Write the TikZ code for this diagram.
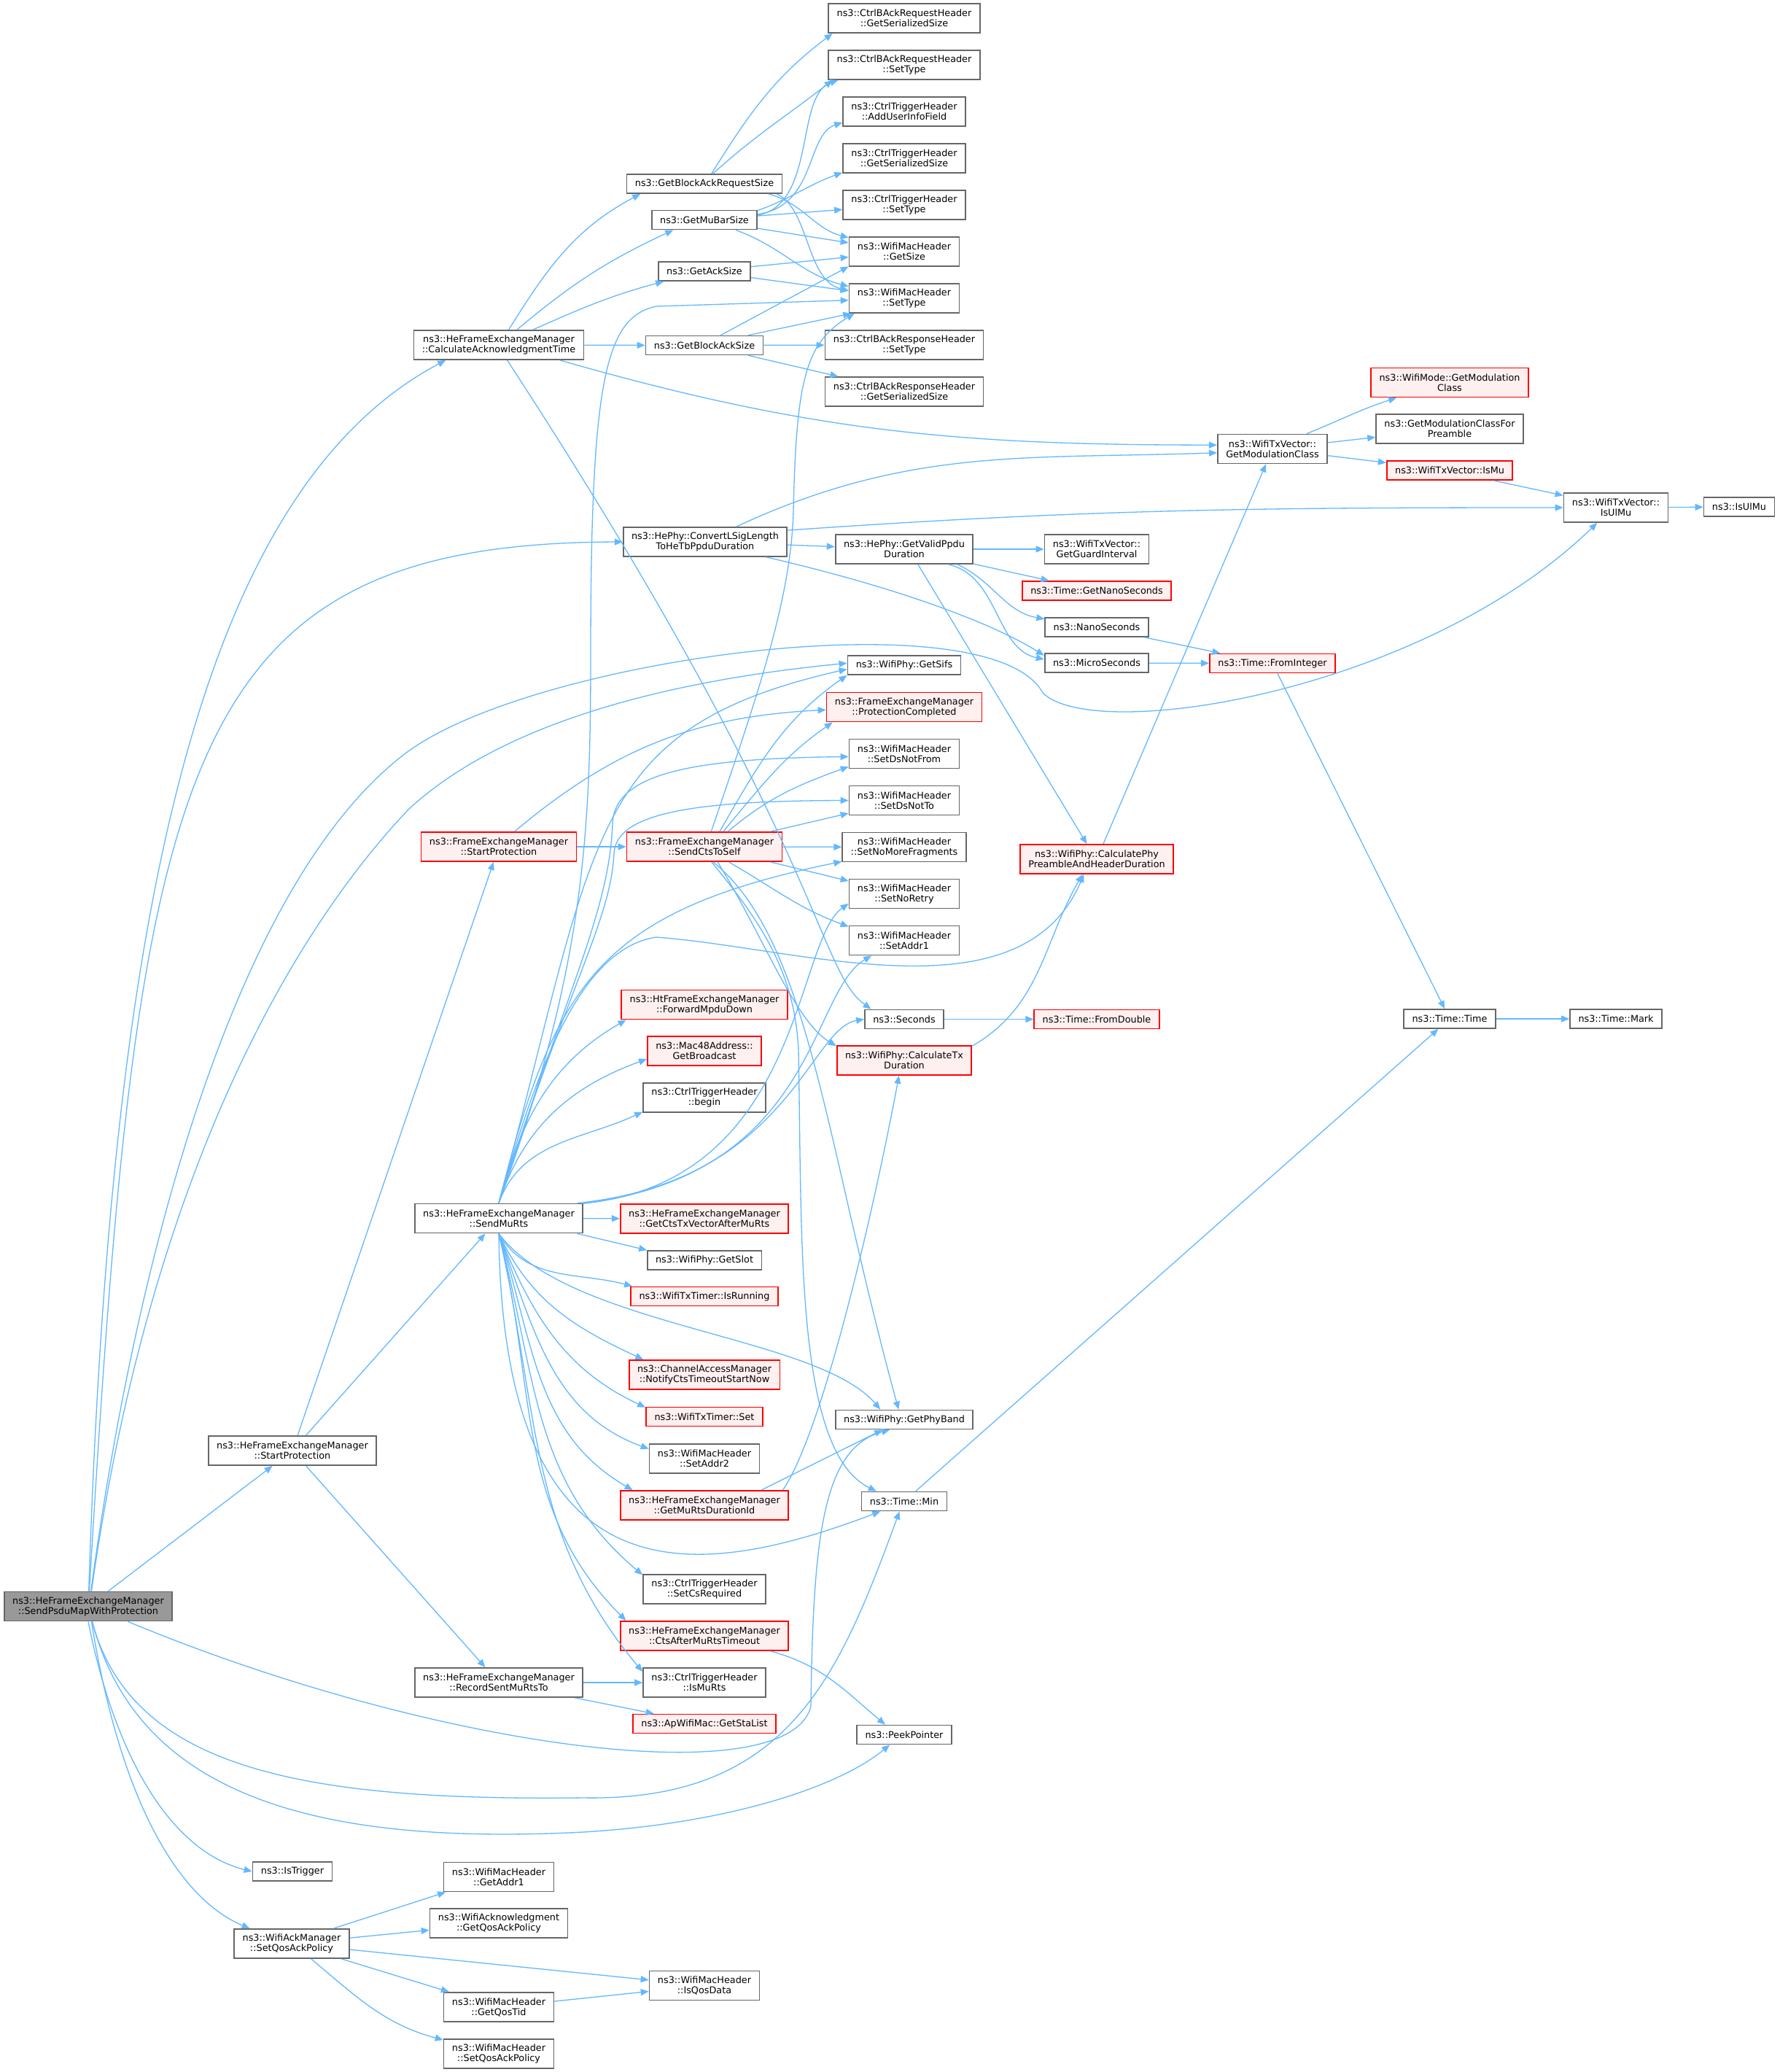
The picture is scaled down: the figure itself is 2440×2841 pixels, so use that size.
\documentclass[tikz,border=0pt]{standalone}
\usepackage{fontspec}
\setmainfont{DejaVu Sans}
\usepackage{tikz}
\usetikzlibrary{arrows.meta}
\usetikzlibrary{positioning}
\definecolor{callblue}{HTML}{63B8FF}
\definecolor{boxgray}{HTML}{666666}
\definecolor{rootgray}{HTML}{999999}
\definecolor{hotfill}{HTML}{FFF0F0}

\begin{document}
\begin{tikzpicture}[x=0.5pt,y=0.5pt,
		fn/.style={draw=boxgray,fill=white,line width=0.9pt,font=\fontsize{6.4}{7}\selectfont,inner xsep=5.7pt,inner ysep=0pt,minimum height=13pt,align=center},
		tall/.style={minimum height=20pt},
		hot/.style={draw=red,fill=hotfill},
		root/.style={fill=rootgray},
		call/.style={draw=callblue,line width=0.65pt,-{Triangle[length=5.5pt,width=4.5pt]}}]
		\fill[white] (0,0) rectangle (2440,-2841);
		\useasboundingbox (0,0) rectangle (2440,-2841);

		\node[fn,tall,root] (psdu) at (121,-2202.5) {ns3::HeFrameExchangeManager\\::SendPsduMapWithProtection};
		\node[fn,tall] (heStart) at (401,-1989) {ns3::HeFrameExchangeManager\\::StartProtection};
		\node[fn] (isTrig) at (401,-2566) {ns3::IsTrigger};
		\node[fn,tall] (ackPol) at (400,-2665) {ns3::WifiAckManager\\::SetQosAckPolicy};

		\node[fn,tall] (calcAck) at (684,-473) {ns3::HeFrameExchangeManager\\::CalculateAcknowledgmentTime};
		\node[fn,tall,hot] (femStart) at (684,-1161) {ns3::FrameExchangeManager\\::StartProtection};
		\node[fn,tall] (muRts) at (684,-1670.5) {ns3::HeFrameExchangeManager\\::SendMuRts};
		\node[fn,tall] (record) at (684,-2307) {ns3::HeFrameExchangeManager\\::RecordSentMuRtsTo};
		\node[fn,tall] (getAddr1) at (684,-2573.5) {ns3::WifiMacHeader\\::GetAddr1};
		\node[fn,tall] (getQosAckPol) at (684,-2637) {ns3::WifiAcknowledgment\\::GetQosAckPolicy};
		\node[fn,tall] (getQosTid) at (684,-2752) {ns3::WifiMacHeader\\::GetQosTid};
		\node[fn,tall] (setQosAckPol) at (684,-2816) {ns3::WifiMacHeader\\::SetQosAckPolicy};

		\node[fn] (baReqSize) at (966,-252) {ns3::GetBlockAckRequestSize};
		\node[fn] (muBarSize) at (966,-301.5) {ns3::GetMuBarSize};
		\node[fn] (ackSize) at (966,-372) {ns3::GetAckSize};
		\node[fn] (baSize) at (966,-473.5) {ns3::GetBlockAckSize};
		\node[fn,tall] (convert) at (967,-743) {ns3::HePhy::ConvertLSigLength\\ToHeTbPpduDuration};
		\node[fn,tall,hot] (ctsSelf) at (966,-1161) {ns3::FrameExchangeManager\\::SendCtsToSelf};
		\node[fn,tall,hot] (fwdMpdu) at (966,-1377.5) {ns3::HtFrameExchangeManager\\::ForwardMpduDown};
		\node[fn,tall,hot] (bcast) at (966,-1441) {ns3::Mac48Address::\\GetBroadcast};
		\node[fn,tall] (trigBegin) at (966,-1505) {ns3::CtrlTriggerHeader\\::begin};
		\node[fn,tall,hot] (ctsTxVec) at (966,-1671) {ns3::HeFrameExchangeManager\\::GetCtsTxVectorAfterMuRts};
		\node[fn] (getSlot) at (966,-1728) {ns3::WifiPhy::GetSlot};
		\node[fn,hot] (isRunning) at (966,-1777.5) {ns3::WifiTxTimer::IsRunning};
		\node[fn,tall,hot] (notifyCts) at (966,-1885) {ns3::ChannelAccessManager\\::NotifyCtsTimeoutStartNow};
		\node[fn,hot] (timerSet) at (966,-1942.5) {ns3::WifiTxTimer::Set};
		\node[fn,tall] (setAddr2) at (966,-2000) {ns3::WifiMacHeader\\::SetAddr2};
		\node[fn,tall,hot] (muRtsDur) at (966,-2064) {ns3::HeFrameExchangeManager\\::GetMuRtsDurationId};
		\node[fn,tall] (setCsReq) at (966,-2179) {ns3::CtrlTriggerHeader\\::SetCsRequired};
		\node[fn,tall,hot] (ctsAfter) at (966,-2243) {ns3::HeFrameExchangeManager\\::CtsAfterMuRtsTimeout};
		\node[fn,tall] (isMuRts) at (966,-2307) {ns3::CtrlTriggerHeader\\::IsMuRts};
		\node[fn,hot] (staList) at (966,-2363.5) {ns3::ApWifiMac::GetStaList};
		\node[fn,tall] (isQosData) at (966,-2722.5) {ns3::WifiMacHeader\\::IsQosData};

		\node[fn,tall] (bareqSer) at (1240,-25) {ns3::CtrlBAckRequestHeader\\::GetSerializedSize};
		\node[fn,tall] (bareqType) at (1240,-89) {ns3::CtrlBAckRequestHeader\\::SetType};
		\node[fn,tall] (addUser) at (1240,-153) {ns3::CtrlTriggerHeader\\::AddUserInfoField};
		\node[fn,tall] (trigSer) at (1240,-217) {ns3::CtrlTriggerHeader\\::GetSerializedSize};
		\node[fn,tall] (trigType) at (1240,-281) {ns3::CtrlTriggerHeader\\::SetType};
		\node[fn,tall] (macSize) at (1240,-345) {ns3::WifiMacHeader\\::GetSize};
		\node[fn,tall] (macType) at (1240,-409) {ns3::WifiMacHeader\\::SetType};
		\node[fn,tall] (barespType) at (1240,-473) {ns3::CtrlBAckResponseHeader\\::SetType};
		\node[fn,tall] (barespSer) at (1240,-537) {ns3::CtrlBAckResponseHeader\\::GetSerializedSize};
		\node[fn,tall] (validPpdu) at (1240,-753) {ns3::HePhy::GetValidPpdu\\Duration};
		\node[fn] (getSifs) at (1240,-912) {ns3::WifiPhy::GetSifs};
		\node[fn,tall,hot] (protDone) at (1240,-969.5) {ns3::FrameExchangeManager\\::ProtectionCompleted};
		\node[fn,tall] (dsNotFrom) at (1240,-1033.5) {ns3::WifiMacHeader\\::SetDsNotFrom};
		\node[fn,tall] (dsNotTo) at (1240,-1097.5) {ns3::WifiMacHeader\\::SetDsNotTo};
		\node[fn,tall] (noMoreFrag) at (1240,-1161.5) {ns3::WifiMacHeader\\::SetNoMoreFragments};
		\node[fn,tall] (noRetry) at (1240,-1225.5) {ns3::WifiMacHeader\\::SetNoRetry};
		\node[fn,tall] (setAddr1) at (1240,-1289.5) {ns3::WifiMacHeader\\::SetAddr1};
		\node[fn] (seconds) at (1240,-1397.5) {ns3::Seconds};
		\node[fn,tall,hot] (txDur) at (1240,-1454) {ns3::WifiPhy::CalculateTx\\Duration};
		\node[fn] (phyBand) at (1240,-1946.5) {ns3::WifiPhy::GetPhyBand};
		\node[fn] (timeMin) at (1240,-2058.5) {ns3::Time::Min};
		\node[fn] (peek) at (1240,-2378.5) {ns3::PeekPointer};

		\node[fn,tall] (guard) at (1504,-753) {ns3::WifiTxVector::\\GetGuardInterval};
		\node[fn,hot] (getNano) at (1504,-810) {ns3::Time::GetNanoSeconds};
		\node[fn] (nanoSec) at (1504,-860) {ns3::NanoSeconds};
		\node[fn] (microSec) at (1504,-909) {ns3::MicroSeconds};
		\node[fn,tall,hot] (preamble) at (1504,-1178) {ns3::WifiPhy::CalculatePhy\\PreambleAndHeaderDuration};
		\node[fn,hot] (fromDouble) at (1504,-1397.5) {ns3::Time::FromDouble};
		\node[fn,tall] (modClass) at (1745,-615.5) {ns3::WifiTxVector::\\GetModulationClass};
		\node[fn,hot] (fromInt) at (1745,-909.5) {ns3::Time::FromInteger};
		\node[fn,tall,hot] (wmModClass) at (1988,-524.5) {ns3::WifiMode::GetModulation\\Class};
		\node[fn,tall] (modPre) at (1988,-588) {ns3::GetModulationClassFor\\Preamble};
		\node[fn,hot] (isMu) at (1988,-645) {ns3::WifiTxVector::IsMu};
		\node[fn] (timeTime) at (1988,-1397) {ns3::Time::Time};
		\node[fn,tall] (isUlMuV) at (2216,-696) {ns3::WifiTxVector::\\IsUlMu};
		\node[fn] (timeMark) at (2216,-1397) {ns3::Time::Mark};
		\node[fn] (isUlMu) at (2385,-695) {ns3::IsUlMu};

		\draw[call] (psdu.88) .. controls (150,-1300) and (260,-680) .. (calcAck.196);
		\draw[call] (psdu.86) .. controls (190,-1050) and (240,-745) .. (convert.west);
		\draw[call] (psdu.80) .. controls (190,-1700) and (330,-1200) .. (560,-1030) .. controls (740,-900) and (1360,-820) .. (1430,-950) .. controls (1500,-1020) and (1950,-950) .. (isUlMuV.219);
		\draw[call] (psdu.78) .. controls (200,-1650) and (380,-1300) .. (560,-1110) .. controls (700,-980) and (950,-930) .. (getSifs.178);
		\draw[call] (psdu) -- (heStart);
		\draw[call] (psdu.339) .. controls (600,-2400) and (1080,-2460) .. (1112,-2340) .. controls (1115,-2100) and (1130,-1985) .. (phyBand.215);
		\draw[call] (psdu.284) .. controls (180,-2420) and (400,-2470) .. (800,-2465) .. controls (1080,-2470) and (1150,-2300) .. (timeMin.245);
		\draw[call] (psdu.285) .. controls (190,-2470) and (450,-2530) .. (800,-2512) .. controls (1000,-2500) and (1150,-2450) .. (peek.215);
		\draw[call] (psdu.south) .. controls (160,-2420) and (240,-2540) .. (isTrig.west);
		\draw[call] (psdu.282) .. controls (170,-2500) and (260,-2610) .. (ackPol.160);

		\draw[call] (heStart) -- (femStart);
		\draw[call] (heStart) -- (muRts);
		\draw[call] (heStart) -- (record);
		\draw[call] (record) -- (isMuRts);
		\draw[call] (record) -- (staList);

		\draw[call] (ackPol.20) -- (getAddr1.196);
		\draw[call] (ackPol) -- (getQosAckPol);
		\draw[call] (ackPol) -- (isQosData);
		\draw[call] (ackPol) -- (getQosTid);
		\draw[call] (ackPol.322) to[out=-40,in=165] (setQosAckPol.166);
		\draw[call] (getQosTid) -- (isQosData);

		\draw[call] (calcAck.57) to[out=58,in=208] (baReqSize.189);
		\draw[call] (calcAck.40) to[out=40,in=205] (muBarSize.198);
		\draw[call] (calcAck.24) to[out=24,in=195] (ackSize.194);
		\draw[call] (calcAck) -- (baSize);
		\draw[call] (calcAck.346) to[out=-16,in=180] (modClass.176);
		\draw[call] (calcAck.299) .. controls (1130,-1160) and (1120,-1330) .. (seconds.163);

		\draw[call] (baReqSize.55) to[out=58,in=217] (bareqSer.192);
		\draw[call] (baReqSize.50) to[out=42,in=218] (bareqType.192);
		\draw[call] (baReqSize.351) to[out=-15,in=165] (macSize.166);
		\draw[call] (baReqSize.352) .. controls (1110,-285) and (1105,-385) .. (macType.172);
		\draw[call] (muBarSize.5) .. controls (1120,-280) and (1090,-130) .. (bareqType.193);
		\draw[call] (muBarSize.6) .. controls (1120,-282) and (1105,-185) .. (addUser.190);
		\draw[call] (muBarSize.10) to[out=20,in=200] (trigSer.193);
		\draw[call] (muBarSize) -- (trigType);
		\draw[call] (muBarSize) -- (macSize);
		\draw[call] (muBarSize.342) to[out=-20,in=165] (macType.168);
		\draw[call] (ackSize) -- (macSize);
		\draw[call] (ackSize) -- (macType);
		\draw[call] (baSize.32) -- (macSize.195);
		\draw[call] (baSize.13) -- (macType.196);
		\draw[call] (baSize) -- (barespType);
		\draw[call] (baSize.347) -- (barespSer.167);

		\draw[call] (convert.26) to[out=25,in=182] (modClass.184);
		\draw[call] (convert.8) to[out=4,in=180] (isUlMuV.west);
		\draw[call] (convert) -- (validPpdu);
		\draw[call] (convert.346) .. controls (1250,-810) and (1370,-860) .. (microSec.172);
		\draw[call] (validPpdu) -- (guard);
		\draw[call] (validPpdu.348) -- (getNano.168);
		\draw[call] (validPpdu.344) to[out=-25,in=170] (nanoSec.171);
		\draw[call] (validPpdu.341) .. controls (1370,-790) and (1365,-890) .. (microSec.176);
		\draw[call] (validPpdu.312) -- (preamble.123);

		\draw[call] (nanoSec.348) -- (fromInt.169);
		\draw[call] (microSec) -- (fromInt);
		\draw[call] (fromInt) -- (timeTime);
		\draw[call] (timeTime) -- (timeMark);
		\draw[call] (timeMin) -- (timeTime);
		\draw[call] (seconds) -- (fromDouble);
		\draw[call] (preamble) -- (modClass);
		\draw[call] (txDur.12) to[out=30,in=240] (preamble.227);
		\draw[call] (modClass.24) to[out=22,in=198] (wmModClass.196);
		\draw[call] (modClass) -- (modPre);
		\draw[call] (modClass) -- (isMu);
		\draw[call] (isMu.347) -- (isUlMuV.167);
		\draw[call] (isUlMuV) -- (isUlMu);

		\draw[call] (femStart.44) to[out=40,in=183] (protDone.182);
		\draw[call] (femStart) -- (ctsSelf);

		\draw[call] (ctsSelf.66) .. controls (1040,-950) and (1085,-820) .. (1088,-700) .. controls (1092,-520) and (1105,-470) .. (macType.197);
		\draw[call] (ctsSelf.45) to[out=60,in=215] (getSifs.190);
		\draw[call] (ctsSelf.39) to[out=50,in=215] (protDone.192);
		\draw[call] (ctsSelf.33) to[out=40,in=200] (dsNotFrom.193);
		\draw[call] (ctsSelf.13) -- (dsNotTo.193);
		\draw[call] (ctsSelf) -- (noMoreFrag);
		\draw[call] (ctsSelf.347) -- (noRetry.167);
		\draw[call] (ctsSelf.328) to[out=-30,in=160] (setAddr1.166);
		\draw[call] (ctsSelf.311) .. controls (1050,-1290) and (1090,-1400) .. (txDur.168);
		\draw[call] (ctsSelf.300) .. controls (1110,-1290) and (1130,-1560) .. (phyBand.119);
		\draw[call] (ctsSelf.295) .. controls (1040,-1260) and (1090,-1330) .. (1095,-1440) .. controls (1100,-1700) and (1090,-1990) .. (timeMin.160);

		\draw[call] (muRts.north) .. controls (800,-1330) and (810,-1150) .. (810,-900) .. controls (810,-520) and (830,-435) .. (900,-420) -- (macType.182);
		\draw[call] (muRts.north) .. controls (820,-1150) and (800,-1000) .. (getSifs.184);
		\draw[call] (muRts.north) .. controls (780,-1350) and (835,-1250) .. (840,-1130) .. controls (842,-1060) and (950,-1040) .. (dsNotFrom.183);
		\draw[call] (muRts.north) .. controls (780,-1350) and (838,-1260) .. (842,-1170) .. controls (845,-1115) and (950,-1098) .. (dsNotTo.west);
		\draw[call] (muRts.north) .. controls (760,-1350) and (820,-1250) .. (noMoreFrag.193);
		\draw[call] (muRts.north) .. controls (740,-1450) and (800,-1300) .. (900,-1285) .. controls (1100,-1300) and (1400,-1400) .. (preamble.230);
		\draw[call] (muRts.north) to[out=75,in=210] (fwdMpdu.191);
		\draw[call] (muRts.north) to[out=72,in=200] (bcast.188);
		\draw[call] (muRts.north) to[out=70,in=205] (trigBegin.193);
		\draw[call] (muRts.10) .. controls (1100,-1620) and (1090,-1290) .. (noRetry.190);
		\draw[call] (muRts.10) .. controls (1120,-1610) and (1110,-1360) .. (setAddr1.205);
		\draw[call] (muRts.11) .. controls (1080,-1620) and (1110,-1410) .. (seconds.west);
		\draw[call] (muRts) -- (ctsTxVec);
		\draw[call] (muRts.349) -- (getSlot.170);
		\draw[call] (muRts.south) to[out=-60,in=165] (isRunning.172);
		\draw[call] (muRts.south) .. controls (780,-1820) and (1120,-1830) .. (phyBand.157);
		\draw[call] (muRts.south) to[out=-65,in=155] (notifyCts.166);
		\draw[call] (muRts.south) to[out=-68,in=155] (timerSet.171);
		\draw[call] (muRts.south) to[out=-70,in=160] (setAddr2.170);
		\draw[call] (muRts.south) to[out=-72,in=150] (muRtsDur.168);
		\draw[call] (muRts.south) .. controls (690,-2200) and (950,-2170) .. (timeMin.203);
		\draw[call] (muRts.south) to[out=-75,in=140] (setCsReq.167);
		\draw[call] (muRts.south) to[out=-76,in=135] (ctsAfter.169);
		\draw[call] (muRts.south) to[out=-77,in=130] (isMuRts.170);

		\draw[call] (muRtsDur.11) .. controls (1130,-1960) and (1200,-1650) .. (txDur.251);
		\draw[call] (muRtsDur.15) -- (phyBand.205);
		\draw[call] (ctsAfter.347) to[out=-15,in=140] (peek.152);
	\end{tikzpicture}
\end{document}
